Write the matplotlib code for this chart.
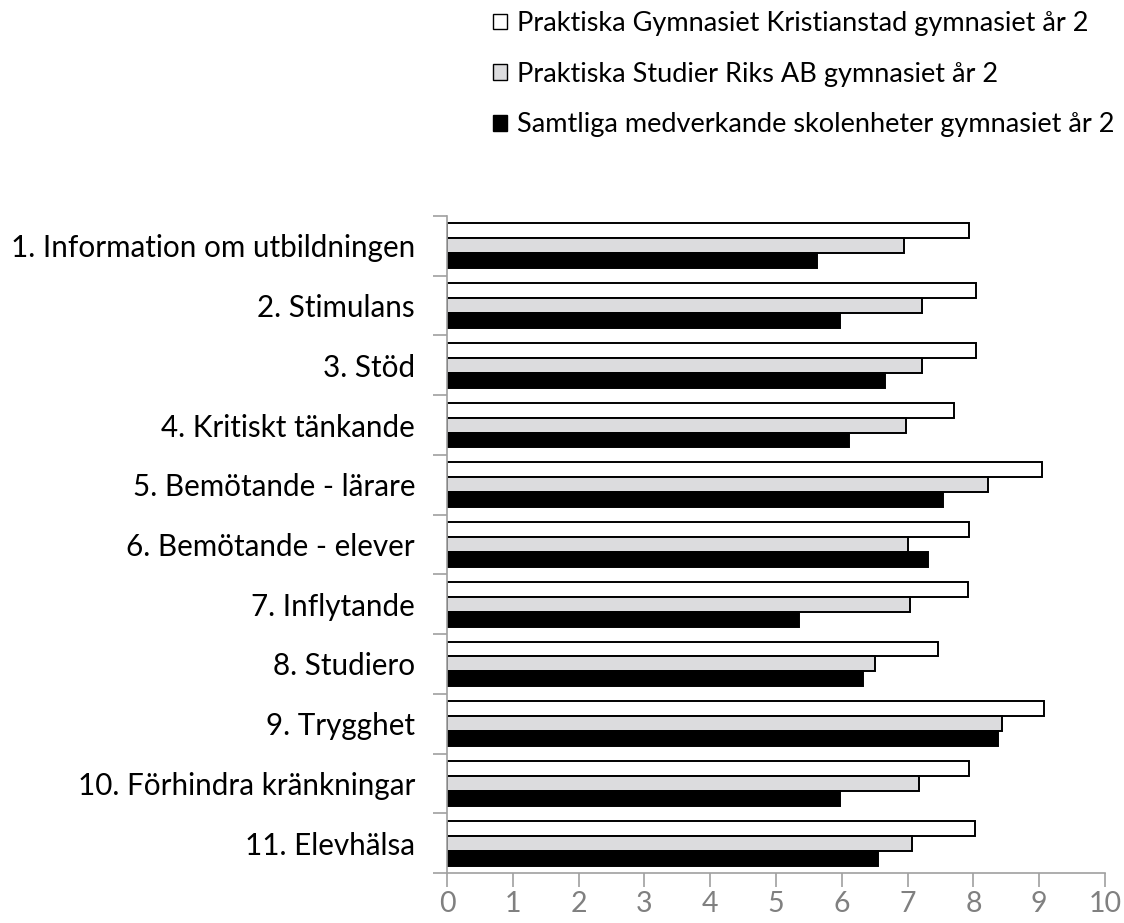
import numpy as np
import matplotlib
matplotlib.use("Agg")
import matplotlib.pyplot as plt
from matplotlib.patches import Patch

plt.rcParams['font.family'] = ['Lato', 'DejaVu Sans']

categories = [
    "1. Information om utbildningen",
    "2. Stimulans",
    "3. Stöd",
    "4. Kritiskt tänkande",
    "5. Bemötande - lärare",
    "6. Bemötande - elever",
    "7. Inflytande",
    "8. Studiero",
    "9. Trygghet",
    "10. Förhindra kränkningar",
    "11. Elevhälsa",
]
series_names = [
    "Praktiska Gymnasiet Kristianstad gymnasiet år 2",
    "Praktiska Studier Riks AB gymnasiet år 2",
    "Samtliga medverkande skolenheter gymnasiet år 2",
]
kristianstad = [7.94, 8.04, 8.04, 7.70, 9.04, 7.94, 7.92, 7.46, 9.07, 7.94, 8.03]
riks = [6.95, 7.22, 7.22, 6.97, 8.22, 7.00, 7.04, 6.51, 8.43, 7.18, 7.06]
samtliga = [5.62, 5.98, 6.66, 6.11, 7.54, 7.31, 5.35, 6.32, 8.38, 5.98, 6.55]
x_ticks = list(range(0, 11))

fills = ['white', '#dcdcde', 'black']
values = [kristianstad, riks, samtliga]

fig = plt.figure(figsize=(11.24, 9.23), dpi=100)
ax = fig.add_axes([447 / 1124, 1 - 873 / 923, (1105 - 447) / 1124, (873 - 216) / 923])

y = np.arange(len(categories))
h = 0.25
offsets = [-h, 0, h]
for vals, fc, off in zip(values, fills, offsets):
    ax.barh(y + off, vals, height=h, color=fc, edgecolor='black', linewidth=1.4)

ax.set_xlim(0, 10)
ax.set_ylim(len(categories) - 0.5, -0.5)
ax.set_xticks(x_ticks)
ax.set_xticklabels([str(t) for t in x_ticks], color='#808080', fontsize=20.5)
ax.set_yticks(y)
ax.set_yticklabels(categories, fontsize=21.3)
ax.set_yticks(np.arange(-0.5, len(categories)), minor=True)
ax.tick_params(axis='y', which='major', length=0, pad=23)
ax.tick_params(axis='y', which='minor', length=10, color='#a0a0a0', width=1.2)
ax.tick_params(axis='x', length=10, color='#a0a0a0', width=1.2, pad=3)

for side in ['top', 'right']:
    ax.spines[side].set_visible(False)
for side in ['left', 'bottom']:
    ax.spines[side].set_color('#a0a0a0')
    ax.spines[side].set_linewidth(1.2)

handles = [Patch(facecolor=fc, edgecolor='black', linewidth=1.0) for fc in fills]
fig.legend(handles, series_names, loc='upper left', bbox_to_anchor=(493 / 1124, 1 - 11 / 923),
           frameon=False, fontsize=19.5, handlelength=0.52, handleheight=0.52,
           handletextpad=0.37, labelspacing=0.95, borderpad=0, borderaxespad=0)

fig.savefig('out.png', dpi=100)
